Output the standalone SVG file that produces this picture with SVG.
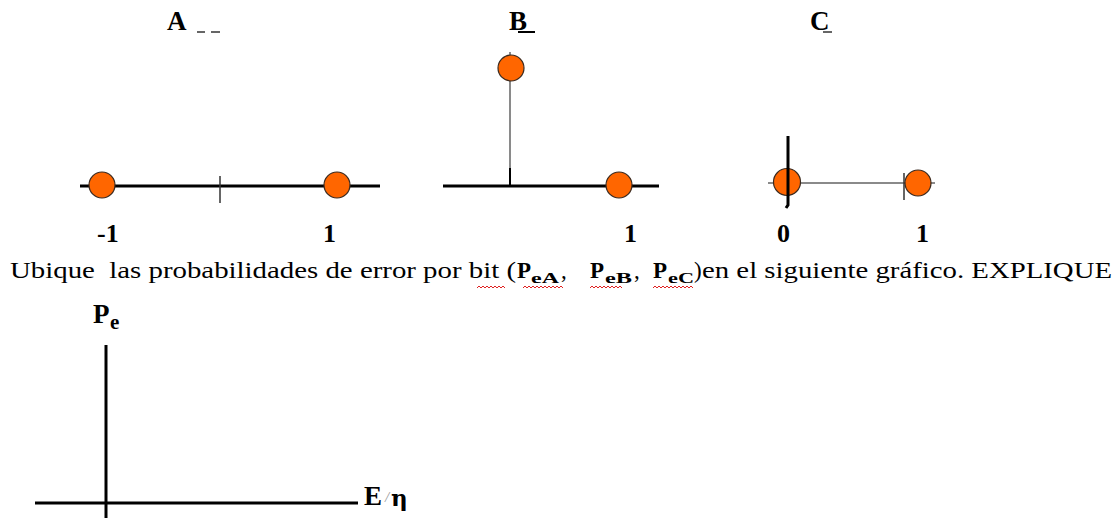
<svg xmlns="http://www.w3.org/2000/svg" width="1120" height="518" viewBox="0 0 1120 518">
<style>
.dot{fill:#FF6600;stroke:#3a2a20;stroke-width:1.2}
.axis{stroke:#000;stroke-width:3;fill:none}
.thin{stroke:#333;stroke-width:1.5;fill:none}
.gray{stroke:#8a8a8a;stroke-width:2;fill:none}
.lbl{font-family:"Liberation Serif","Times New Roman",serif;font-weight:bold;font-size:27px;fill:#000}
.num{font-family:"Liberation Serif","Times New Roman",serif;font-weight:bold;font-size:26px;fill:#000}
.txt{font-family:"Liberation Serif","Times New Roman",serif;font-size:23px;fill:#000;white-space:pre}
.b{font-weight:bold}
.sub{font-weight:bold;font-size:15px}
.wavy{stroke:#e02020;stroke-width:1;fill:none}
</style>
<rect width="1120" height="518" fill="#fff"/>
<g id="panelA">
  <text class="lbl" x="167" y="30">A</text>
  <line x1="197" y1="32" x2="205" y2="32" stroke="#333" stroke-width="1.5"/>
  <line x1="211" y1="32" x2="220" y2="32" stroke="#333" stroke-width="1.5"/>
  <line class="axis" x1="80" y1="186" x2="380" y2="186"/>
  <line class="thin" x1="220" y1="176" x2="220" y2="203"/>
  <circle class="dot" cx="102" cy="185" r="13"/>
  <circle class="dot" cx="337" cy="185" r="13"/>
  <text class="num" x="97" y="242">-1</text>
  <text class="num" x="323" y="242">1</text>
</g>
<g id="panelB">
  <text class="lbl" x="509" y="30">B</text>
  <line x1="518" y1="32" x2="535" y2="32" stroke="#000" stroke-width="2"/>
  <line class="gray" x1="510" y1="52" x2="510" y2="186"/>
  <line x1="510" y1="168" x2="510" y2="186" stroke="#000" stroke-width="2"/>
  <line class="axis" x1="443" y1="186" x2="659" y2="186"/>
  <circle class="dot" cx="511" cy="68" r="13"/>
  <circle class="dot" cx="619" cy="185" r="13"/>
  <text class="num" x="624" y="242">1</text>
</g>
<g id="panelC">
  <text class="lbl" x="810" y="30">C</text>
  <line x1="823" y1="32" x2="832" y2="32" stroke="#333" stroke-width="1.5"/>
  <line class="gray" x1="768" y1="183" x2="935" y2="183"/>
  <line class="thin" x1="904" y1="173" x2="904" y2="200"/>
  <circle class="dot" cx="787" cy="182" r="13.5"/>
  <circle class="dot" cx="918" cy="183" r="13"/>
  <path class="axis" d="M788 136 L788 205 L786 208"/>
  <text class="num" x="777" y="242">0</text>
  <text class="num" x="916" y="242">1</text>
</g>
<g id="question">
  <text class="txt" y="278"><tspan x="10" textLength="506" lengthAdjust="spacingAndGlyphs">Ubique  las probabilidades de error por bit (</tspan><tspan class="b" x="517">P</tspan><tspan class="sub" x="531" dy="5" textLength="28" lengthAdjust="spacingAndGlyphs">eA</tspan><tspan x="561" dy="-5">,</tspan><tspan class="b" x="590">P</tspan><tspan class="sub" x="605" dy="5" textLength="27" lengthAdjust="spacingAndGlyphs">eB</tspan><tspan x="634" dy="-5">,</tspan><tspan class="b" x="653">P</tspan><tspan class="sub" x="668" dy="5" textLength="26" lengthAdjust="spacingAndGlyphs">eC</tspan><tspan x="694" dy="-5">)</tspan><tspan x="702" textLength="410" lengthAdjust="spacingAndGlyphs">en el siguiente gráfico. EXPLIQUE</tspan></text>
  <path class="wavy" d="M477 288 l2 -2 l2 2 l2 -2 l2 2 l2 -2 l2 2 l2 -2 l2 2 l2 -2 l2 2 l2 -2 l2 2 l2 -2 l2 2"/>
  <path class="wavy" d="M523 288 l2 -2 l2 2 l2 -2 l2 2 l2 -2 l2 2 l2 -2 l2 2 l2 -2 l2 2 l2 -2 l2 2 l2 -2 l2 2 l2 -2 l2 2 l2 -2 l2 2 l2 -2 l2 2"/>
  <path class="wavy" d="M590 288 l2 -2 l2 2 l2 -2 l2 2 l2 -2 l2 2 l2 -2 l2 2 l2 -2 l2 2 l2 -2 l2 2 l2 -2 l2 2 l2 -2 l2 2"/>
  <path class="wavy" d="M653 288 l2 -2 l2 2 l2 -2 l2 2 l2 -2 l2 2 l2 -2 l2 2 l2 -2 l2 2 l2 -2 l2 2 l2 -2 l2 2 l2 -2 l2 2 l2 -2 l2 2 l2 -2 l2 2"/>
</g>
<g id="peGraph">
  <line class="axis" x1="106" y1="345" x2="106" y2="518"/>
  <line class="axis" x1="35" y1="503" x2="358" y2="503"/>
  <text class="lbl" x="93" y="323">P</text>
  <text class="lbl" x="110" y="329" style="font-size:21px">e</text>
  <text class="lbl" x="364" y="505">E</text>
  <text x="385" y="502" style="font-family:'Liberation Serif',serif;font-size:15px;font-style:italic;fill:#999">/</text>
  <text x="391" y="506" style="font-family:'DejaVu Serif',serif;font-size:23px;font-weight:bold;fill:#000">η</text>
</g>
</svg>
